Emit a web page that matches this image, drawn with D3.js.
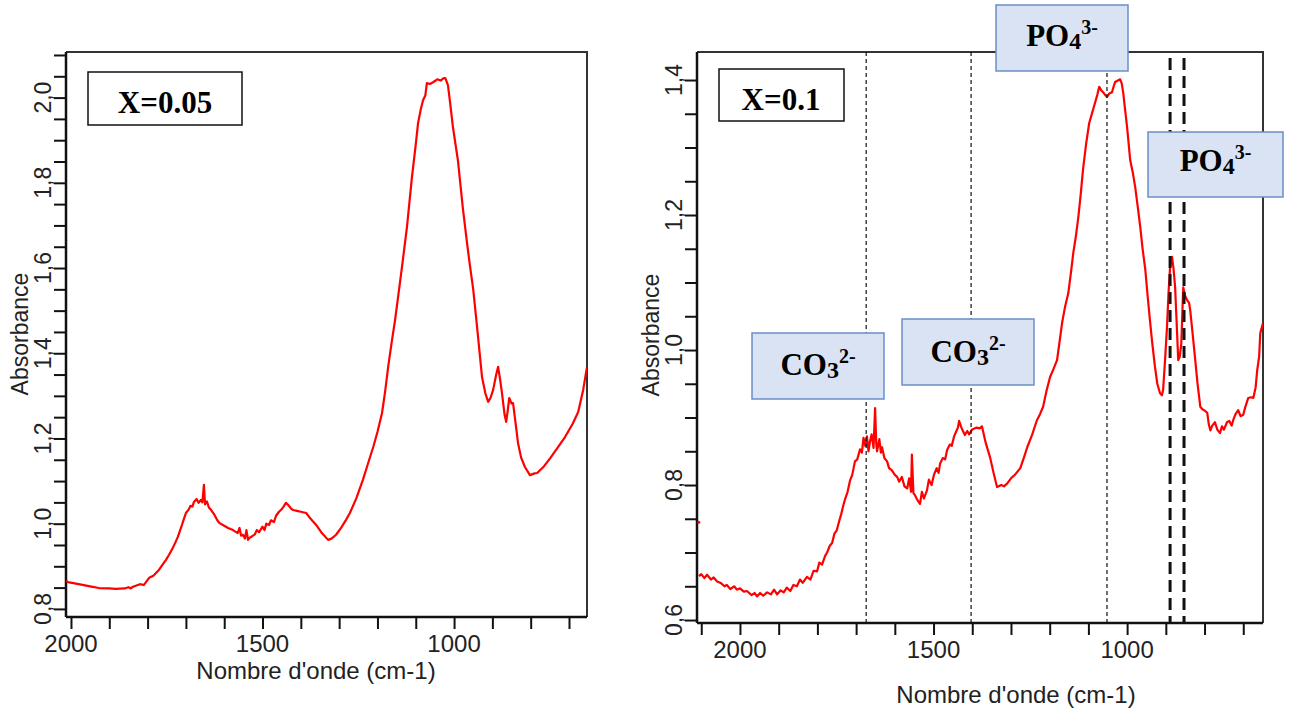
<!DOCTYPE html>
<html><head><meta charset="utf-8">
<script src="https://cdn.jsdelivr.net/npm/d3@7/dist/d3.min.js"></script>
<style>body{margin:0;background:#fff}svg{display:block}</style>
</head><body>
<svg id="c" width="1290" height="709"></svg>
<script>
// ---- data: panel X=0.05 ----
const leftWave = [2013,2008,1980,1950,1927,1900,1883,1860,1850,1845,1838,1820,1810,1796,1785,1770,1760,1752,1744,1735,1728,1721,1715,1710,1705,1700,1693,1688,1683,1679,1672,1667,1661,1657,1653,1650,1645,1640,1634,1625,1618,1613,1600,1590,1577,1565,1560,1556,1551,1546,1542,1538,1535,1528,1520,1515,1509,1500,1495,1490,1483,1478,1470,1465,1457,1450,1445,1439,1432,1425,1420,1410,1400,1386,1375,1360,1345,1329,1320,1308,1295,1282,1272,1255,1238,1225,1211,1200,1188,1180,1172,1163,1154,1145,1136,1123,1110,1100,1094,1087,1081,1075,1071,1063,1055,1048,1044,1035,1028,1023,1016,1010,1003,990,977,965,958,950,940,927,918,911,905,898,890,885,880,875,868,864,860,856,850,846,840,833,825,815,802,790,783,765,749,730,710,690,676,663,653];
const leftAbs = [0.866,0.863,0.858,0.853,0.849,0.848,0.847,0.848,0.851,0.848,0.852,0.858,0.856,0.873,0.878,0.892,0.905,0.915,0.927,0.942,0.955,0.969,0.985,0.998,1.012,1.025,1.033,1.042,1.040,1.051,1.058,1.049,1.056,1.050,1.091,1.045,1.052,1.038,1.032,1.020,1.008,1.002,0.995,0.990,0.985,0.978,0.990,0.972,0.974,0.965,0.985,0.962,0.966,0.970,0.975,0.985,0.980,0.993,0.985,1.000,0.997,1.008,1.004,1.018,1.028,1.034,1.040,1.049,1.043,1.035,1.032,1.030,1.028,1.025,1.012,0.997,0.978,0.962,0.965,0.974,0.990,1.009,1.025,1.060,1.103,1.140,1.180,1.215,1.260,1.310,1.368,1.425,1.478,1.540,1.602,1.696,1.813,1.890,1.940,1.972,1.994,2.005,2.034,2.032,2.036,2.040,2.043,2.040,2.045,2.046,2.029,1.985,1.931,1.853,1.740,1.650,1.602,1.550,1.462,1.344,1.305,1.286,1.295,1.314,1.350,1.368,1.340,1.307,1.255,1.239,1.265,1.295,1.282,1.283,1.240,1.189,1.155,1.133,1.114,1.118,1.119,1.135,1.154,1.178,1.204,1.235,1.262,1.314,1.368];

// ---- data: panel X=0.1 ----
const rightWave = [2106,2100,2092,2085,2075,2068,2059,2050,2040,2034,2025,2015,2008,2000,1990,1982,1970,1962,1956,1948,1940,1930,1920,1912,1904,1895,1887,1879,1870,1862,1853,1845,1838,1827,1818,1810,1801,1795,1788,1780,1775,1768,1762,1756,1750,1744,1738,1733,1728,1722,1716,1710,1703,1697,1690,1685,1681,1676,1672,1668,1664,1660,1655,1651,1648,1646,1640,1636,1633,1627,1620,1615,1608,1600,1594,1589,1582,1575,1568,1563,1558,1556,1552,1548,1542,1535,1530,1525,1517,1512,1505,1499,1492,1487,1483,1476,1470,1465,1458,1453,1447,1441,1437,1434,1428,1424,1419,1413,1408,1401,1390,1380,1375,1365,1354,1345,1336,1325,1318,1310,1300,1290,1276,1267,1258,1245,1233,1225,1217,1208,1199,1190,1181,1175,1168,1160,1152,1145,1139,1132,1126,1120,1114,1106,1098,1090,1083,1077,1072,1067,1062,1057,1052,1046,1039,1035,1031,1025,1018,1014,1010,1005,1000,992,985,979,972,966,960,953,947,941,935,928,922,915,910,907,902,897,893,889,884,880,876,872,868,864,860,857,855,850,845,840,837,830,824,818,811,805,799,793,789,785,780,773,767,760,755,750,742,736,730,726,720,713,707,700,695,687,680,674,668,664,659,656,649];
const rightAbs = [0.665,0.668,0.662,0.667,0.660,0.663,0.657,0.655,0.650,0.652,0.646,0.650,0.645,0.647,0.642,0.643,0.637,0.640,0.635,0.640,0.636,0.641,0.638,0.645,0.638,0.644,0.641,0.648,0.643,0.652,0.650,0.660,0.655,0.664,0.660,0.673,0.672,0.685,0.682,0.695,0.700,0.710,0.714,0.728,0.733,0.746,0.758,0.770,0.780,0.790,0.806,0.815,0.835,0.838,0.853,0.848,0.870,0.858,0.872,0.850,0.865,0.875,0.855,0.914,0.862,0.850,0.868,0.848,0.856,0.840,0.835,0.825,0.822,0.815,0.812,0.805,0.812,0.798,0.795,0.810,0.790,0.845,0.788,0.785,0.778,0.772,0.790,0.780,0.792,0.808,0.800,0.815,0.825,0.818,0.832,0.840,0.838,0.852,0.860,0.858,0.872,0.880,0.885,0.895,0.885,0.880,0.874,0.880,0.875,0.882,0.885,0.884,0.887,0.862,0.841,0.818,0.797,0.800,0.798,0.802,0.810,0.815,0.825,0.840,0.856,0.875,0.896,0.905,0.916,0.940,0.960,0.972,0.985,1.010,1.040,1.065,1.084,1.115,1.144,1.170,1.197,1.230,1.267,1.305,1.336,1.352,1.366,1.378,1.390,1.385,1.382,1.378,1.375,1.380,1.382,1.390,1.397,1.399,1.401,1.395,1.381,1.355,1.330,1.281,1.262,1.241,1.210,1.182,1.150,1.119,1.080,1.044,1.010,0.975,0.950,0.936,0.933,0.941,0.985,1.034,1.085,1.123,1.138,1.120,1.093,1.040,0.985,0.990,1.010,1.060,1.093,1.080,1.074,1.070,1.059,1.020,0.985,0.950,0.916,0.912,0.910,0.907,0.890,0.881,0.888,0.893,0.882,0.877,0.887,0.882,0.893,0.895,0.888,0.896,0.905,0.911,0.902,0.904,0.915,0.929,0.930,0.929,0.945,0.970,0.990,1.025,1.040];
const rightStray = [[2109, 0.745]];

// ---- ticks & labels ----
const leftXTicks = [2000,1900,1800,1700,1600,1500,1400,1300,1200,1100,1000,900,800,700];
const rightXTicks = [2100,2000,1900,1800,1700,1600,1500,1400,1300,1200,1100,1000,900,800,700];
const xLabelTicks = [2000,1500,1000];
const leftYTicks = [0.8,0.85,0.9,0.95,1.0,1.05,1.1,1.15,1.2,1.25,1.3,1.35,1.4,1.45,1.5,1.55,1.6,1.65,1.7,1.75,1.8,1.85,1.9,1.95,2.0,2.05,2.1];
const leftYLabels = [0.8,1.0,1.2,1.4,1.6,1.8,2.0];
const rightYTicks = [0.6,0.65,0.7,0.75,0.8,0.85,0.9,0.95,1.0,1.05,1.1,1.15,1.2,1.25,1.3,1.35,1.4];
const rightYLabels = [0.6,0.8,1.0,1.2,1.4];

// band markers (wavenumber) on X=0.1 panel
const thinMarkers = [1674,1403,1052];
const thickMarkers = [889,853];

const xTitle = "Nombre d'onde (cm-1)";
const yTitle = "Absorbance";

const svg = d3.select("#c");
const fmt = v => d3.format(".1f")(v).replace(".", ",");
const FONT = "Liberation Sans, Arial, sans-serif";
const SERIF = "Liberation Serif, Times New Roman, serif";

function panel(o){
  const x = d3.scaleLinear().domain(o.xd).range([o.l, o.r]);
  const y = d3.scaleLinear().domain(o.yd).range([o.b, o.t]);
  const g = svg.append("g");
  const clipId = "clip" + o.id;
  svg.append("clipPath").attr("id", clipId).append("rect")
    .attr("x", o.l).attr("y", o.t).attr("width", o.r - o.l).attr("height", o.b - o.t);

  g.append("path").attr("d", `M${o.l},${o.t}H${o.r}V${o.b}`)
    .attr("fill","none").attr("stroke","#333").attr("stroke-width",2);

  const ax = d3.axisBottom(x).tickValues(o.xTicks).tickSize(12).tickSizeOuter(0).tickFormat("");
  const gx = g.append("g").attr("transform", `translate(0,${o.b})`).call(ax);
  const ay = d3.axisLeft(y).tickValues(o.yTicks).tickSize(12).tickSizeOuter(0).tickFormat("");
  const gy = g.append("g").attr("transform", `translate(${o.l},0)`).call(ay);
  [gx, gy].forEach(a => {
    a.selectAll("line").attr("stroke","#111").attr("stroke-width",2);
    a.select(".domain").attr("stroke","#111").attr("stroke-width",2.5);
  });
  gx.select(".domain").attr("d", `M${o.l},0H${o.r}`);
  gy.select(".domain").attr("d", `M0,${o.t}V${o.b}`);

  g.selectAll(".xl").data(xLabelTicks).join("text")
    .attr("x", d => x(d)).attr("y", o.b + o.xlOff)
    .attr("text-anchor","middle").attr("font-family",FONT).attr("font-size",24).attr("fill","#222")
    .text(d => d);
  g.selectAll(".yl").data(o.yLabels).join("text")
    .attr("transform", d => `translate(${o.l - 15},${y(d)}) rotate(-90)`)
    .attr("text-anchor","middle").attr("font-family",FONT).attr("font-size",23).attr("fill","#222")
    .text(d => fmt(d));
  g.append("text").attr("x", o.xtX).attr("y", o.xtY).attr("text-anchor","middle")
    .attr("font-family",FONT).attr("font-size",24).attr("fill","#222").text(xTitle);
  g.append("text").attr("transform", `translate(${o.ytX},${o.ytY}) rotate(-90)`).attr("text-anchor","middle")
    .attr("font-family",FONT).attr("font-size",23).attr("fill","#222").text(yTitle);

  const line = d3.line().x(d => x(d[0])).y(d => y(d[1]));
  const pts = o.wave.map((w,i) => [w, o.abs[i]]);
  g.append("path").attr("clip-path", `url(#${clipId})`).attr("d", line(pts))
    .attr("fill","none").attr("stroke","#ff0000").attr("stroke-width",2.2).attr("stroke-linejoin","round");
  return {x, y, g};
}

const L = panel({id:"L", xd:[2013,653], yd:[0.781,2.107], l:66, r:587, t:52, b:617,
  xTicks:leftXTicks, yTicks:leftYTicks, yLabels:leftYLabels, wave:leftWave, abs:leftAbs,
  xlOff:35, xtX:316, xtY:679, ytX:28, ytY:334});

const R = panel({id:"R", xd:[2111,649], yd:[0.5956,1.4415], l:697, r:1263, t:52, b:623,
  xTicks:rightXTicks, yTicks:rightYTicks, yLabels:rightYLabels, wave:rightWave, abs:rightAbs,
  xlOff:35, xtX:1016, xtY:703, ytX:659, ytY:335});

R.g.selectAll(".st").data(rightStray).join("circle")
  .attr("cx", d => R.x(d[0]) + 1).attr("cy", d => R.y(d[1])).attr("r", 1.5).attr("fill", "#ff0000");

R.g.selectAll(".thin").data(thinMarkers).join("line")
  .attr("x1", d => R.x(d)).attr("x2", d => R.x(d)).attr("y1", 52).attr("y2", 623)
  .attr("stroke","#111").attr("stroke-width",1.2).attr("stroke-dasharray","4,3");
R.g.selectAll(".thick").data(thickMarkers).join("line")
  .attr("x1", d => R.x(d)).attr("x2", d => R.x(d)).attr("y1", 58).attr("y2", 624)
  .attr("stroke","#111").attr("stroke-width",3).attr("stroke-dasharray","12,6");

function plainBox(bx, by, bw, bh, label, tx, ty){
  svg.append("rect").attr("x",bx).attr("y",by).attr("width",bw).attr("height",bh)
    .attr("fill","#fff").attr("stroke","#111").attr("stroke-width",1.5);
  svg.append("text").attr("x",tx).attr("y",ty).attr("text-anchor","middle")
    .attr("font-family",SERIF).attr("font-weight","bold").attr("font-size",31).attr("fill","#000").text(label);
}
plainBox(88, 72, 154, 53, "X=0.05", 165, 113);
plainBox(719, 69, 125, 52, "X=0.1", 781, 110);

const ionBoxes = [
  {x:752, y:333, w:132, h:66, base:"CO", sub:"3", sup:"2-", ty:375},
  {x:902, y:319, w:132, h:66, base:"CO", sub:"3", sup:"2-", ty:362},
  {x:996, y:5,   w:132, h:66, base:"PO", sub:"4", sup:"3-", ty:46},
  {x:1148, y:132, w:135, h:65, base:"PO", sub:"4", sup:"3-", ty:171}
];
ionBoxes.forEach(b => {
  svg.append("rect").attr("x",b.x).attr("y",b.y).attr("width",b.w).attr("height",b.h)
    .attr("fill","#dae3f3").attr("stroke","#6a8fc8").attr("stroke-width",1.5);
  const t = svg.append("text").attr("x", b.x + b.w/2).attr("y", b.ty).attr("text-anchor","middle")
    .attr("font-family",SERIF).attr("font-weight","bold").attr("font-size",31).attr("fill","#000");
  t.append("tspan").text(b.base);
  t.append("tspan").attr("font-size",24).attr("dy",3).text(b.sub);
  t.append("tspan").attr("font-size",20).attr("dy",-15).text(b.sup);
});
</script>
</body></html>
